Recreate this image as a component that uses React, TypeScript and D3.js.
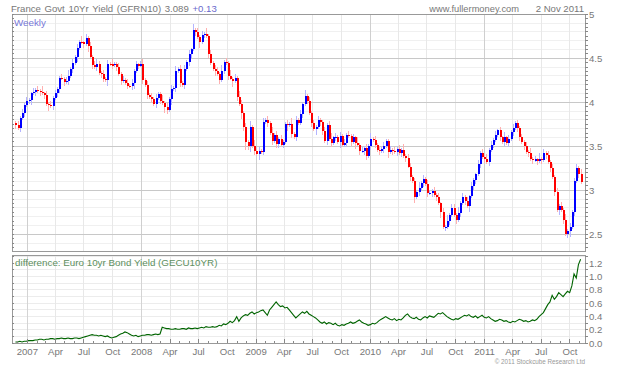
import React from "react";
import * as d3 from "d3";

const START_DATE = "2006-11-24";
const FIRST_OPEN = 3.76;
const CLOSE = [
  3.74,3.71,3.82,3.88,3.97,4.02,4.03,4.10,4.12,4.14,
  4.13,4.12,4.10,4.08,3.98,3.97,3.96,4.05,4.10,4.15,
  4.28,4.27,4.23,4.24,4.30,4.38,4.45,4.52,4.62,4.69,
  4.68,4.66,4.73,4.64,4.52,4.42,4.40,4.43,4.33,4.32,
  4.27,4.25,4.44,4.43,4.42,4.44,4.40,4.32,4.24,4.25,
  4.22,4.19,4.18,4.22,4.36,4.43,4.42,4.43,4.25,4.20,
  4.08,4.06,4.04,3.98,4.05,4.09,4.02,3.99,3.95,3.91,
  4.04,4.15,4.16,4.35,4.38,4.22,4.20,4.38,4.46,4.55,
  4.60,4.82,4.80,4.74,4.68,4.77,4.78,4.75,4.55,4.45,
  4.38,4.36,4.32,4.25,4.36,4.46,4.45,4.30,4.27,4.24,
  4.28,4.06,3.98,3.88,3.72,3.55,3.50,3.72,3.50,3.45,
  3.41,3.45,3.44,3.78,3.80,3.76,3.65,3.56,3.63,3.53,
  3.58,3.52,3.55,3.75,3.74,3.75,3.64,3.60,3.80,3.76,
  3.87,3.98,4.07,4.02,3.88,3.76,3.70,3.72,3.80,3.78,
  3.67,3.56,3.74,3.58,3.54,3.60,3.61,3.55,3.62,3.51,
  3.54,3.63,3.62,3.55,3.60,3.54,3.52,3.45,3.45,3.48,
  3.39,3.50,3.58,3.57,3.52,3.46,3.45,3.47,3.50,3.56,
  3.43,3.46,3.45,3.43,3.47,3.42,3.46,3.39,3.37,3.27,
  3.15,3.10,2.92,2.98,3.03,3.08,3.13,3.07,2.97,2.97,
  2.99,2.95,2.92,2.85,2.75,2.58,2.58,2.65,2.72,2.80,
  2.72,2.66,2.74,2.86,2.92,2.88,2.82,2.93,3.05,3.12,
  3.18,3.30,3.42,3.38,3.35,3.32,3.46,3.52,3.57,3.63,
  3.68,3.60,3.55,3.60,3.54,3.58,3.66,3.71,3.76,3.71,
  3.60,3.55,3.50,3.44,3.42,3.36,3.34,3.35,3.33,3.36,
  3.34,3.42,3.40,3.32,3.25,3.15,2.98,2.78,2.82,2.78,
  2.66,2.50,2.54,2.58,2.75,3.10,3.25,3.18,3.09,
];
// wick extensions above / below the body (units of 0.022)
const WICK_UP =
  "1212121121" + "2131212121" + "1212312121" + "3121212321" + "2121311212" +
  "1212121231" + "2121211312" + "1213121212" + "1312121312" + "1221312131" +
  "2132121313" + "1212121312" + "1211213121" + "2131212121" + "1212312121" +
  "2121213121" + "2131212121" + "1212121312" + "2121312121" + "1212121312" +
  "2131212121" + "1212131212" + "1213121212" + "1212131213" + "1212121212" +
  "131212213";
const WICK_DN =
  "2121212312" + "1212131212" + "2121212131" + "1213121212" + "2131212121" +
  "1212312121" + "2121212132" + "1312121212" + "2121312121" + "1312121213" +
  "1213242312" + "1312121212" + "2121312121" + "1212121312" + "2121212131" +
  "1212131212" + "2121212121" + "3121212121" + "2131212121" + "2121312121" +
  "1212121312" + "2121212121" + "1212121212" + "2121212121" + "2121212131" +
  "212312121";
const DIFF = [
  0.02,0.02,0.03,0.02,0.03,0.03,0.04,0.04,0.04,0.05,
  0.05,0.06,0.06,0.05,0.06,0.06,0.07,0.07,0.06,0.07,
  0.07,0.08,0.07,0.07,0.08,0.07,0.07,0.08,0.08,0.07,
  0.08,0.09,0.10,0.11,0.12,0.13,0.12,0.12,0.11,0.12,
  0.11,0.10,0.11,0.09,0.08,0.09,0.10,0.12,0.14,0.15,
  0.17,0.16,0.14,0.12,0.11,0.12,0.10,0.11,0.12,0.12,
  0.13,0.13,0.12,0.13,0.14,0.13,0.14,0.24,0.23,0.22,
  0.22,0.21,0.21,0.22,0.21,0.21,0.22,0.22,0.21,0.23,
  0.22,0.22,0.23,0.22,0.23,0.24,0.23,0.25,0.24,0.24,
  0.25,0.24,0.25,0.27,0.26,0.29,0.28,0.30,0.33,0.31,
  0.34,0.40,0.33,0.38,0.41,0.43,0.42,0.45,0.47,0.44,
  0.46,0.47,0.49,0.50,0.46,0.42,0.50,0.54,0.58,0.62,
  0.58,0.55,0.56,0.53,0.54,0.50,0.46,0.42,0.38,0.41,
  0.44,0.47,0.45,0.48,0.44,0.42,0.40,0.38,0.35,0.32,
  0.30,0.32,0.29,0.31,0.30,0.28,0.30,0.27,0.26,0.28,
  0.27,0.29,0.30,0.32,0.30,0.31,0.33,0.35,0.32,0.30,
  0.29,0.27,0.28,0.30,0.29,0.31,0.34,0.36,0.38,0.40,
  0.38,0.36,0.35,0.37,0.34,0.36,0.35,0.38,0.42,0.44,
  0.40,0.38,0.37,0.39,0.36,0.35,0.38,0.40,0.38,0.41,
  0.40,0.39,0.42,0.45,0.44,0.46,0.43,0.40,0.38,0.36,
  0.35,0.37,0.36,0.38,0.40,0.42,0.41,0.43,0.40,0.39,
  0.41,0.38,0.40,0.42,0.39,0.38,0.40,0.37,0.35,0.33,
  0.34,0.36,0.35,0.33,0.34,0.32,0.31,0.33,0.32,0.34,
  0.36,0.35,0.33,0.34,0.32,0.33,0.35,0.34,0.36,0.40,
  0.43,0.46,0.52,0.58,0.62,0.72,0.66,0.70,0.76,0.73,
  0.70,0.74,0.78,0.76,0.86,1.04,0.98,1.18,1.26,
];
const PRICE_TICKS = [2.5, 3, 3.5, 4, 4.5, 5];
const DIFF_TICKS = [0, 0.2, 0.4, 0.6, 0.8, 1.0, 1.2];
const MONTHS = ["Jan","Feb","Mar","Apr","May","Jun","Jul","Aug","Sep","Oct","Nov","Dec"];
const TITLE = "France Govt 10Yr Yield (GFRN10) 3.089";
const CHANGE = "+0.13";
const SITE = "www.fullermoney.com";
const DATE_LABEL = "2 Nov 2011";
const TOP_LABEL = "Weekly";
const BOTTOM_LABEL = "difference: Euro 10yr Bond Yield (GECU10YR)";
const COPYRIGHT = "\u00A9 2011 Stockcube Research Ltd";

const FONT = "'Liberation Sans', Arial, sans-serif";

export default function App() {
  const W = 640, H = 366;
  const L = 12, R = 585;
  const T1 = 14.5, B1 = 251;
  const T2 = 255, B2 = 343.3;

  const start = d3.timeParse("%Y-%m-%d")(START_DATE) as Date;
  const dates = CLOSE.map((_, i) => d3.timeDay.offset(start, 7 * i));

  const x = d3.scaleTime().domain([new Date(2006, 10, 13), new Date(2011, 10, 18)]).range([L, R]);
  const y1 = d3.scaleLinear().domain([2.3102, 5]).range([B1, 14.3]);
  const y2 = d3.scaleLinear().domain([0, 1.3245]).range([B2, T2]);

  const quarters = d3.timeMonth.every(3)!.range(new Date(2007, 0, 1), new Date(2011, 10, 18));
  const months = d3.timeMonth.range(new Date(2006, 11, 1), new Date(2011, 10, 18));

  const minor1 = d3.range(24, 51).map((v) => v / 10);
  const tick1 = d3.range(47, 101).map((v) => v / 20);
  const minor2 = d3.range(0, 14).map((v) => v / 10);

  const candles = CLOSE.map((c, i) => {
    const o = i === 0 ? FIRST_OPEN : CLOSE[i - 1];
    const hi = Math.max(o, c) + Number(WICK_UP[i]) * 0.022;
    const lo = Math.min(o, c) - Number(WICK_DN[i]) * 0.022;
    return { d: dates[i], o, c, hi, lo, up: c >= o };
  });

  const line = d3.line<number>()
    .x((_, i) => x(dates[i]))
    .y((v) => y2(v));

  return (
    <svg width={W} height={H} style={{ display: "block", position: "absolute", left: 0, top: 0, background: "#fff" }} fontFamily={FONT}>
      <rect x={0} y={0} width={W} height={H} fill="#fff" />
      {/* header */}
      <text x={11} y={12} fontSize={9.6} fill="#777" wordSpacing={1}>
        {TITLE} <tspan fill="#6a6acc">{CHANGE}</tspan>
      </text>
      <text x={519} y={12} fontSize={9.3} fill="#777" textAnchor="end">{SITE}</text>
      <text x={584} y={12} fontSize={9.6} fill="#777" textAnchor="end">{DATE_LABEL}</text>

      {/* top panel grid */}
      <g shapeRendering="crispEdges">
        {minor1.map((v) => (
          <line key={"m1" + v} x1={L} x2={R} y1={y1(v)} y2={y1(v)} stroke="#f0f0f0" />
        ))}
        {quarters.map((q) => (
          <line key={"q1" + q.getTime()} x1={x(q)} x2={x(q)} y1={T1} y2={B1}
            stroke={q.getMonth() === 0 ? "#cfcfcf" : "#e8e8e8"} />
        ))}
        {PRICE_TICKS.map((v) => (
          <line key={"g1" + v} x1={L} x2={R} y1={y1(v)} y2={y1(v)} stroke="#c8c8c8" />
        ))}
        {/* bottom panel grid */}
        {minor2.map((v) => (
          <line key={"m2" + v} x1={L} x2={R} y1={y2(v)} y2={y2(v)} stroke="#ececec" />
        ))}
        {quarters.map((q) => (
          <line key={"q2" + q.getTime()} x1={x(q)} x2={x(q)} y1={T2} y2={B2}
            stroke={q.getMonth() === 0 ? "#d4d4d4" : "#e8e8e8"} />
        ))}
      </g>

      {/* candles */}
      <g shapeRendering="crispEdges">
        {candles.map((k, i) => {
          const cx = Math.round(x(k.d));
          const yTop = y1(Math.max(k.o, k.c));
          const yBot = y1(Math.min(k.o, k.c));
          return (
            <g key={"c" + i}>
              <line x1={cx + 0.5} x2={cx + 0.5} y1={y1(k.hi)} y2={y1(k.lo)}
                stroke={k.up ? "#b4b4ff" : "#ffb0b0"} />
              <rect x={cx - 0.5} y={yTop} width={2} height={Math.max(1.2, yBot - yTop)}
                fill={k.up ? "#0000ff" : "#ff0000"} />
            </g>
          );
        })}
      </g>

      {/* difference line */}
      <path d={line(DIFF) || ""} fill="none" stroke="#006400" strokeWidth={1.1} />

      {/* frames */}
      <g shapeRendering="crispEdges" fill="none">
        <rect x={L} y={T1} width={R - L} height={B1 - T1} stroke="#999" />
        <rect x={L} y={T2} width={R - L} height={B2 - T2} stroke="#999" />
        {tick1.map((v) => (
          <g key={"t1" + v}>
            <line x1={R} x2={R + 3} y1={y1(v)} y2={y1(v)} stroke="#888" />
            <line x1={L} x2={L + 2} y1={y1(v)} y2={y1(v)} stroke="#888" />
          </g>
        ))}
        {minor2.map((v) => (
          <g key={"t2" + v}>
            <line x1={R} x2={R + 3} y1={y2(v)} y2={y2(v)} stroke="#888" />
            <line x1={L} x2={L + 2} y1={y2(v)} y2={y2(v)} stroke="#888" />
          </g>
        ))}
        {months.map((m) => (
          <line key={"mt" + m.getTime()} x1={x(m)} x2={x(m)} y1={B2} y2={B2 - (m.getMonth() % 3 === 0 ? 4 : 2)} stroke="#888" />
        ))}
      </g>

      {/* right axis labels */}
      {PRICE_TICKS.map((v) => (
        <text key={"l1" + v} x={589} y={y1(v) + 3.5} fontSize={9.6} fill="#777">{String(v)}</text>
      ))}
      {DIFF_TICKS.map((v) => (
        <text key={"l2" + v} x={589} y={y2(v) + 3.5} fontSize={9.6} fill="#777">{v.toFixed(1)}</text>
      ))}

      {/* x labels */}
      {quarters.map((q) => (
        <text key={"xl" + q.getTime()} x={x(q)} y={355} fontSize={9.6} fill="#777" textAnchor="middle">
          {q.getMonth() === 0 ? String(q.getFullYear()) : MONTHS[q.getMonth()]}
        </text>
      ))}

      {/* panel labels */}
      <text x={14} y={26} fontSize={9.8} fill="#7878d8">{TOP_LABEL}</text>
      <text x={15} y={266} fontSize={9.8} fill="#5e8f5e">{BOTTOM_LABEL}</text>
      <text x={585} y={364} fontSize={6.3} fill="#999" textAnchor="end">{COPYRIGHT}</text>
    </svg>
  );
}
